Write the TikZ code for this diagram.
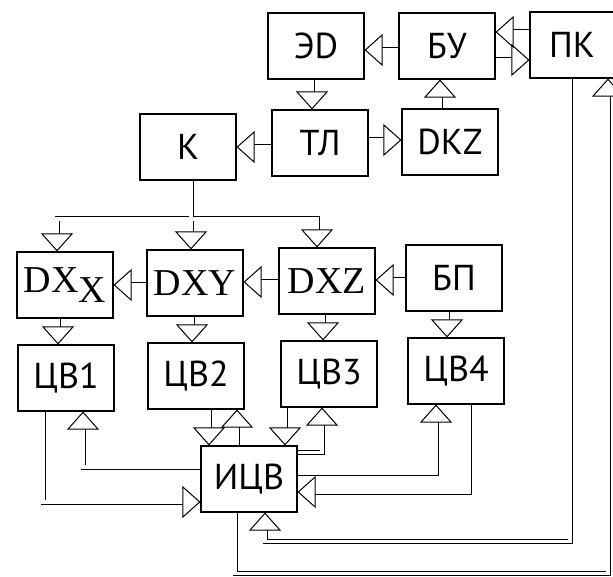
\documentclass[tikz,border=0pt]{standalone}
\usepackage{fontspec}
\setmainfont{PT Sans}
\newfontfamily\dxfont{Liberation Serif}
\usetikzlibrary{arrows.meta,backgrounds}
\tikzset{
  blok/.style={
    draw=black,
    line width=1.1pt,
    minimum width=96pt,
    minimum height=66pt,
    inner sep=0pt,
    font=\fontsize{36}{40}\selectfont
  },
  dxblok/.style={
    blok,
    font=\dxfont\fontsize{38}{42}\selectfont
  },
  tube/.style={
    draw=black,
    line width=0.9pt,
    double=white,
    double distance=3.2pt
  },
  pipe/.style={
    draw=white,
    line width=1pt,
    -{Triangle[open,length=18pt,width=32pt,color=black]},
    preaction={tube,shorten >=17pt,arrows=-}
  }
}

\begin{document}
\begin{tikzpicture}[x=1pt,y=-1pt]
    \useasboundingbox (0,0) rectangle (613,577);

    % top row
    \node[blok] (ed) at (316,46) {ЭD};
    \node[blok] (bu) at (447,46) {БУ};
    \node[blok, minimum width=84pt] (pk) at (572,45) {ПК};
    % second row
    \node[blok] (k) at (188,147) {К};
    \node[blok] (tl) at (320,143) {ТЛ};
    \node[blok] (dkz) at (450,142) {DKZ};
    % decoders
    \node[dxblok] (dxx) at (65,285) {DX\raisebox{-10pt}{X}};
    \node[dxblok] (dxy) at (195,283) {DXY};
    \node[dxblok] (dxz) at (327,281) {DXZ};
    \node[blok] (bp) at (454,278) {БП};
    % ЦВ row
    \node[blok] (cv1) at (66,378) {ЦВ1};
    \node[blok] (cv2) at (196,376) {ЦВ2};
    \node[blok] (cv3) at (329,374) {ЦВ3};
    \node[blok] (cv4) at (456,371) {ЦВ4};
    \node[blok] (icv) at (249,479) {ИЦВ};

    \coordinate (bxl) at (57,220.6);
    \coordinate (bxm) at (191,220.6);
    \coordinate (bxr) at (317,220.6);
    \coordinate (bk) at (191,217.4);

    \begin{scope}[on background layer]
        \draw[pipe] ([yshift=-4pt]bu.west) -- ([yshift=-4pt]ed.east);
        \draw[pipe] ([yshift=13pt]pk.west) -- ([yshift=14pt]bu.east);
        \draw[pipe] ([yshift=-14pt]bu.east) -- ([yshift=-15pt]pk.west);
        \draw[pipe] ([xshift=-4pt]ed.south) -- ([xshift=-8pt]tl.north);
        \draw[pipe] ([yshift=-4pt]tl.west) -- (k.east);
        \draw[pipe] ([yshift=3pt]tl.east) -- ([yshift=2pt]dkz.west);
        \draw[pipe] ([xshift=-10pt]dkz.north) -- ([xshift=-7pt]bu.south);

        % bus from К
        \draw[tube] (bxl) -- ([yshift=1.6pt]bxl) -- ([yshift=1.6pt]bxr) -- (bxr);
        \draw[tube] ([xshift=3pt]k.south) -- (bk);
        \draw[pipe] (bxl) -- (bxl |- dxx.north);
        \draw[pipe] (bxm) -- (bxm |- dxy.north);
        \draw[pipe] (bxr) -- (bxr |- dxz.north);

        \draw[pipe] ([yshift=-2pt]dxy.west) -- (dxx.east);
        \draw[pipe] ([yshift=-1pt]dxz.west) -- ([yshift=1pt]dxy.east);
        \draw[pipe] ([yshift=-2pt]bp.west) -- ([yshift=1pt]dxz.east);
        \draw[pipe] ([xshift=-7pt]dxx.south) -- ([xshift=-8pt]cv1.north);
        \draw[pipe] ([xshift=-3pt]dxy.south) -- ([xshift=-4pt]cv2.north);
        \draw[pipe] ([xshift=-4pt]dxz.south) -- ([xshift=-6pt]cv3.north);
        \draw[pipe] ([xshift=-7pt]bp.south) -- ([xshift=-9pt]cv4.north);

        % ИЦВ links
        \draw[pipe] ([xshift=13pt]cv2.south) -- ([xshift=-40pt]icv.north);
        \draw[pipe] ([xshift=-12pt]icv.north) -- ([xshift=41pt]cv2.south);
        \draw[pipe] ([xshift=-44pt]cv3.south) -- ([xshift=36pt]icv.north);
        \draw[pipe] ([yshift=-7pt]icv.north east) -| ([xshift=-7pt]cv3.south);
        \draw[pipe] ([yshift=6pt]icv.east) -| ([xshift=-20pt]cv4.south);
        \draw[pipe] ([xshift=13pt]cv4.south) |- ([yshift=-13pt]icv.east);
        \draw[pipe] ([yshift=12pt]icv.west) -| ([xshift=17pt]cv1.south);
        \draw[pipe] ([xshift=-23pt]cv1.south) |- ([yshift=-23pt]icv.west);
        \draw[pipe] ([xshift=-2pt]pk.south) -- ++(0,463) -| ([xshift=16pt]icv.south);
        \draw[pipe] ([xshift=-14pt]icv.south) -- ++(0,61) -| ([xshift=36pt]pk.south);
    \end{scope}
\end{tikzpicture}
\end{document}
